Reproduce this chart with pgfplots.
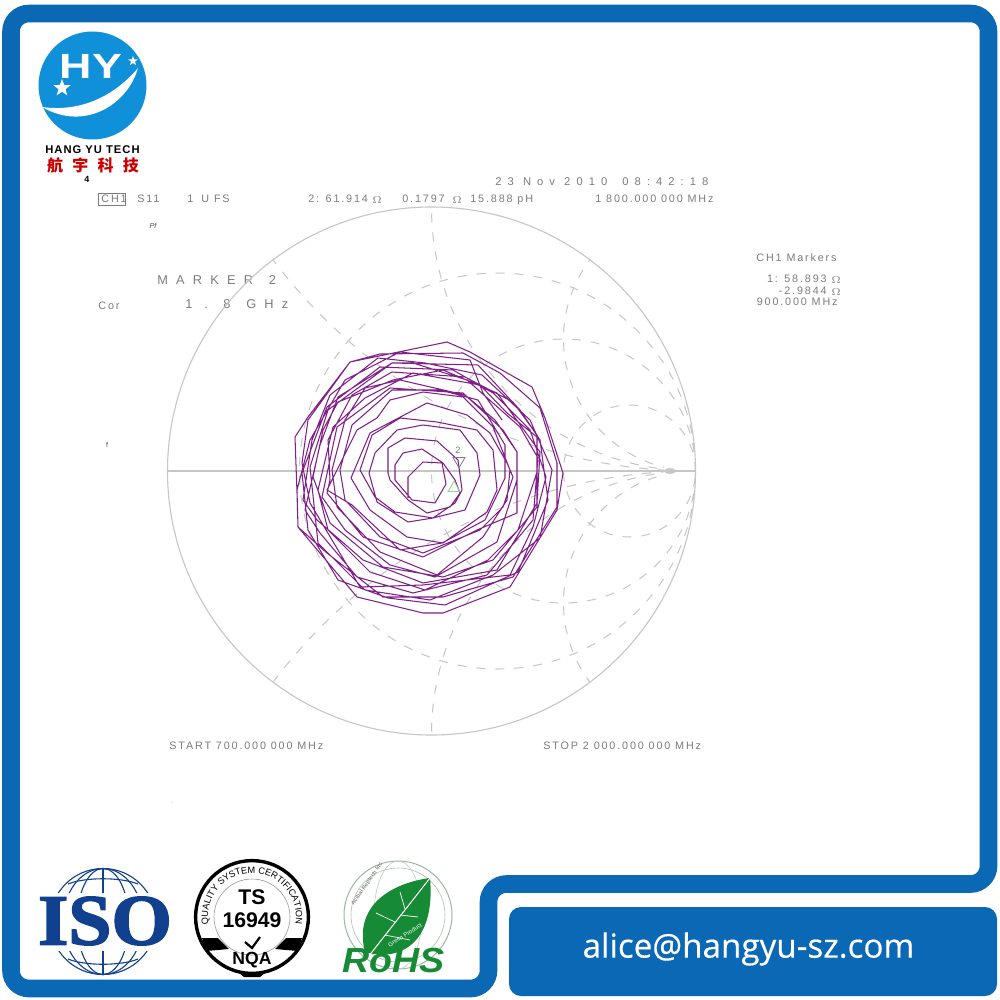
\documentclass[border=0pt]{standalone}
\usepackage{pgfplots}
\pgfplotsset{compat=1.18}
\usepackage{fontspec}
\usetikzlibrary{decorations.text,shapes.geometric}
\setmainfont{Liberation Sans}
\newfontfamily\cjk{Noto Sans CJK SC}
\newfontfamily\mailfont[FakeBold=0.4]{Open Sans}
\newfontfamily\isofont[FakeBold=2.2]{Liberation Serif}
\newfontfamily\inst[LetterSpace=17]{Liberation Sans}
\newfontfamily\instwide[LetterSpace=54]{Liberation Sans}
\newfontfamily\instbig[LetterSpace=64]{Liberation Sans}

\definecolor{frameblue}{HTML}{0B68B5}
\definecolor{logoblue}{HTML}{1190DA}
\definecolor{trace}{HTML}{7F1F87}
\definecolor{gridgray}{HTML}{C6C6C6}
\definecolor{txtgray}{HTML}{7C7C7C}
\definecolor{isoblue}{HTML}{10408E}
\definecolor{rohsgreen}{HTML}{178A35}

% axis is 1000 x 1000 units on 500pt, y downwards, so 1 unit = 1 image pixel = 0.5pt
\pgfplotsset{px/.style={
    hide axis, scale only axis, clip=false,
    width=500pt, height=500pt,
    xmin=0, xmax=1000, ymin=0, ymax=1000, y dir=reverse}}

\newcommand{\smalltxt}[3]{\node[anchor=base west,inner sep=0,text=txtgray,font=\inst\fontsize{5.4pt}{6pt}\selectfont] at (axis cs:#1,#2) {#3};}
\newcommand{\ohm}[2]{\node[anchor=base west,inner sep=0,text=txtgray,font=\fontsize{5pt}{6pt}\selectfont] at (axis cs:#1,#2) {$\Omega$};}

\begin{document}
\begin{tikzpicture}
\begin{axis}[px]
\addplot[draw=none] coordinates {(0,0) (1000,1000)};
\fill[white] (axis cs:0,0) rectangle (axis cs:1000,1000);

% outer frame and mail box
\draw[frameblue,line width=8.8pt,rounded corners=9pt] (axis cs:11,13.5) -- (axis cs:988.5,13.5) -- (axis cs:988.5,884) -- (axis cs:488.5,884) -- (axis cs:488.5,988.5) -- (axis cs:11,988.5) -- cycle;
\fill[frameblue,rounded corners=6pt] (axis cs:509,907) rectangle (axis cs:997,996);
\node[text=white,font=\mailfont\fontsize{16.6pt}{18pt}\selectfont] at (axis cs:748.5,949) {alice@hangyu-sz.com};

% company logo
\fill[logoblue] (axis cs:92.5,85.5) circle[radius=27pt];
\node[text=white,font=\bfseries\fontsize{17.5pt}{18pt}\selectfont,xscale=1.28,inner sep=0] at (axis cs:91,66) {HY};
\node[star,star points=5,star point ratio=2.4,fill=white,minimum size=5pt,inner sep=0] at (axis cs:133,61) {};
\node[star,star points=5,star point ratio=2.4,fill=white,minimum size=9pt,inner sep=0] at (axis cs:62,88) {};
\fill[white] (axis cs:42,107) .. controls (axis cs:85,132) and (axis cs:128,104) .. (axis cs:138,68) .. controls (axis cs:118,92) and (axis cs:85,113) .. (axis cs:42,107) -- cycle;
\node[font=\bfseries\fontsize{5.6pt}{6pt}\selectfont,inner sep=0] at (axis cs:92.5,150) {\addfontfeature{LetterSpace=9}HANG YU TECH};
\node[text=red!80!black,font=\cjk\bfseries\fontsize{8pt}{9pt}\selectfont,inner sep=0] at (axis cs:93,165) {航\hspace{4.6pt}宇\hspace{4.6pt}科\hspace{4.6pt}技};
\node[font=\bfseries\fontsize{4.5pt}{5pt}\selectfont,inner sep=0] at (axis cs:87,179) {4};

% instrument annotations
\draw[txtgray,line width=0.4pt] (axis cs:98,193) rectangle (axis cs:125,205);
\smalltxt{101}{203}{CH1}
\smalltxt{137}{203}{S11}
\smalltxt{187}{203}{1\hspace{4pt}U FS}
\smalltxt{308}{203}{2: 61.914}
\ohm{372}{204}
\smalltxt{402}{203}{0.1797}
\ohm{452}{204}
\smalltxt{470}{203}{15.888 pH}
\smalltxt{595}{203}{1 800.000 000 MHz}
\node[anchor=base west,inner sep=0,text=txtgray,font=\instwide\fontsize{5.6pt}{6pt}\selectfont] at (axis cs:495,186) {23 Nov 2010 \hspace{3pt}08:42:18};
\node[anchor=base west,inner sep=0,text=txtgray,font=\instbig\fontsize{6.4pt}{7pt}\selectfont] at (axis cs:157,284) {MARKER \hspace{2pt}2};
\node[anchor=base west,inner sep=0,text=txtgray,font=\instbig\fontsize{6.4pt}{7pt}\selectfont] at (axis cs:185,308) {1 . 8 \hspace{2pt}GHz};
\smalltxt{98}{309}{Cor}
\node[anchor=base,inner sep=0,text=black!70,font=\itshape\fontsize{3.6pt}{4pt}\selectfont] at (axis cs:153,228) {Pf};
\node[anchor=base,inner sep=0,text=black!70,font=\fontsize{3.6pt}{4pt}\selectfont] at (axis cs:107,447) {f};
\smalltxt{756}{261}{CH1 Markers}
\node[anchor=base east,inner sep=0,text=txtgray,font=\inst\fontsize{5.4pt}{6pt}\selectfont] at (axis cs:827,282) {1: 58.893};
\ohm{831}{283}
\node[anchor=base east,inner sep=0,text=txtgray,font=\inst\fontsize{5.4pt}{6pt}\selectfont] at (axis cs:827,294) {-2.9844};
\ohm{831}{295}
\node[anchor=base east,inner sep=0,text=txtgray,font=\inst\fontsize{5.4pt}{6pt}\selectfont] at (axis cs:838,305) {900.000 MHz};
\smalltxt{169}{749}{START 700.000 000 MHz}
\smalltxt{543}{749}{STOP 2 000.000 000 MHz}
\node[inner sep=0,text=gray!50,font=\fontsize{4pt}{4pt}\selectfont] at (axis cs:172,803) {.};

% Smith chart grid, r = 1/3, 1, 3 and x = 1/2, 1, 2
\draw[gridgray,line width=0.55pt] (axis cs:431.5,471) circle[radius=132pt];
\draw[gridgray,line width=0.55pt] (axis cs:167,471) -- (axis cs:696,471);
\begin{scope}
\clip (axis cs:431.5,471) circle[radius=132pt];
\begin{scope}[gridgray,line width=0.5pt,dash pattern=on 4.5pt off 5pt]
\draw (axis cs:497.5,471) circle[radius=99pt];
\draw (axis cs:563.5,471) circle[radius=66pt];
\draw (axis cs:629.5,471) circle[radius=33pt];
\begin{scope}
\clip (axis cs:150,190) rectangle (axis cs:664,750);
\draw (axis cs:695.5,339) circle[radius=66pt];
\draw (axis cs:695.5,603) circle[radius=66pt];
\draw (axis cs:695.5,207) circle[radius=132pt];
\draw (axis cs:695.5,735) circle[radius=132pt];
\draw (axis cs:695.5,-57) circle[radius=264pt];
\draw (axis cs:695.5,999) circle[radius=264pt];
\end{scope}
\end{scope}
\end{scope}
\fill[gridgray] (axis cs:670,471) ellipse[x radius=3pt,y radius=1.4pt];

% ISO logo
\begin{scope}
\clip (axis cs:40,860) rectangle (axis cs:170,893) (axis cs:40,951) rectangle (axis cs:170,980);
\begin{scope}[isoblue,line width=0.55pt]
\draw (axis cs:103,921.5) circle[radius=26.5pt];
\draw (axis cs:103,921.5) ellipse[x radius=13pt,y radius=26.5pt];
\draw (axis cs:103,921.5) ellipse[x radius=20pt,y radius=26.5pt];
\draw (axis cs:103,868) -- (axis cs:103,975);
\draw (axis cs:68,884) .. controls (axis cs:85,877) and (axis cs:121,877) .. (axis cs:138,884);
\draw (axis cs:68,959) .. controls (axis cs:85,966) and (axis cs:121,966) .. (axis cs:138,959);
\end{scope}
\end{scope}
\node[text=isoblue,font=\isofont\bfseries\fontsize{36pt}{36pt}\selectfont,xscale=1.08,inner sep=0] at (axis cs:105,921) {ISO};

% TS 16949 logo
\draw[black,line width=1.7pt] (axis cs:252,917) circle[radius=28.2pt];
\draw[black!40,line width=0.3pt] (axis cs:252,917) circle[radius=19pt];
\path[decorate,decoration={text along path,text align=center,text={|\fontsize{4.6pt}{5pt}\selectfont|QUALITY SYSTEM CERTIFICATION}}] (axis cs:252,917) ++(203:22pt) arc[start angle=203,end angle=-23,radius=22pt];
\fill[black] (axis cs:202,938) -- (axis cs:218,938) -- (axis cs:229,949) -- (axis cs:206,951) -- cycle;
\fill[black] (axis cs:302,938) -- (axis cs:286,938) -- (axis cs:275,949) -- (axis cs:298,951) -- cycle;
\node[font=\bfseries\fontsize{10.6pt}{11pt}\selectfont,inner sep=0] at (axis cs:252,897) {TS};
\node[font=\bfseries\fontsize{10.6pt}{11pt}\selectfont,inner sep=0] at (axis cs:252,920) {16949};
\draw[black,line width=1.1pt] (axis cs:245,942) -- (axis cs:252,948) -- (axis cs:260,937);
\node[font=\bfseries\fontsize{8.8pt}{9pt}\selectfont,inner sep=0] at (axis cs:252,960) {NQA};
\fill[black] (axis cs:238,972) -- (axis cs:266,972) -- (axis cs:260,977) -- (axis cs:244,977) -- cycle;

% RoHS logo
\draw[rohsgreen!35!gray!60,line width=0.5pt] (axis cs:398,915) circle[radius=27pt];
\draw[rohsgreen!35!gray!50,line width=0.3pt] (axis cs:398,915) circle[radius=23.5pt];
\draw[rohsgreen!35!gray!40,line width=0.3pt] (axis cs:398,915) ellipse[x radius=12pt,y radius=27pt];
\fill[rohsgreen] (axis cs:430,878) .. controls (axis cs:392,883) and (axis cs:353,905) .. (axis cs:365,952) .. controls (axis cs:398,962) and (axis cs:436,945) .. (axis cs:430,878) -- cycle;
\draw[white,line width=0.5pt] (axis cs:361,966) -- (axis cs:430,878);
\draw[white,line width=0.35pt] (axis cs:395,922) -- (axis cs:376,913) (axis cs:405,909) -- (axis cs:400,892) (axis cs:385,935) -- (axis cs:410,940) (axis cs:400,915) -- (axis cs:418,917);
\node[text=gray!90,font=\bfseries\fontsize{2.8pt}{3pt}\selectfont,rotate=55,inner sep=0] at (axis cs:367,884) {Acibal Reptech Inc};
\node[text=white,font=\fontsize{3pt}{3pt}\selectfont,rotate=33,inner sep=0] at (axis cs:405,935) {Green Product};
\node[text=rohsgreen,font=\bfseries\itshape\fontsize{17.4pt}{17pt}\selectfont,inner sep=0,xscale=1.08] at (axis cs:393.5,961) {RoHS};
\end{axis}

\begin{axis}[px]
% S11 trace, y in image pixels
\addplot[trace,line width=0.52pt,line join=round] coordinates {
(408,498) (408,477) (423,462) (442,463) (446,484) (435,503) (412,500)
(395,480) (395,465) (403,453) (422,449) (443,463) (455,480) (460,493) (450,507) (427,513) (408,500) (390,480)
(388,473) (388,448) (405,438) (437,441) (458,460) (462,490) (455,503) (433,518) (408,522) (377,502)
(369,473) (375,453) (397,430) (423,425) (460,430) (477,453) (480,475) (465,510) (433,518) (395,512) (375,497)
(360,470) (372,435) (400,418) (437,422) (477,430) (493,450) (497,490) (487,512) (443,543) (407,537) (370,510)
(351,478) (370,433) (427,403) (467,415) (490,433) (507,463) (513,477) (503,507) (480,530) (423,553) (380,537) (345,500)
(340,470) (352,425) (392,390) (440,390) (478,400) (505,445) (505,478) (497,495) (485,520) (442,543) (400,550) (352,505)
(327,490) (357,430) (377,418) (390,400) (423,392) (463,397) (493,427) (510,470) (507,500) (483,537) (437,575) (380,552) (337,507)
(332,470) (345,420) (365,388) (400,380) (465,395) (495,420) (517,452) (517,480) (497,542) (435,577) (390,565) (345,530)
(322,497) (337,427) (390,388) (463,393) (503,430) (517,452) (517,513) (477,530) (423,557) (363,537) (327,493)
(330,480) (328,440) (352,395) (392,372) (465,377) (513,402) (537,435) (537,472) (518,530) (488,560) (425,590) (370,572) (328,530)
(318,490) (333,427) (365,398) (413,373) (480,385) (507,413) (537,437) (537,507) (493,560) (443,577) (383,567) (330,523)
(313,477) (323,430) (338,402) (393,380) (443,370) (497,393) (540,452) (537,503) (497,570) (423,583) (363,560) (317,520)
(303,500) (312,440) (330,395) (378,358) (425,363) (482,375) (530,420) (552,470) (540,538) (493,575) (430,600) (365,590) (318,543)
(310,467) (328,410) (392,363) (413,363) (467,380) (520,427) (538,458) (533,520) (487,575) (413,593) (357,577) (320,533)
(305,510) (320,445) (338,397) (392,363) (478,365) (520,410) (540,440) (548,500) (518,572) (445,605) (388,598) (338,580) (308,530)
(302,473) (327,407) (380,367) (453,370) (493,393) (530,430) (546,477) (533,527) (510,575) (423,585) (360,587) (310,503)
(302,463) (308,420) (350,362) (380,354) (463,353) (500,373) (540,408) (557,463) (557,507) (513,577) (443,597) (383,597) (327,553) (298,527)
(297,493) (295,437) (308,417) (350,362) (447,342) (470,352) (532,387) (545,418) (563,473) (557,510) (510,587) (443,613) (423,613) (357,597) (298,527)
(297,490) (310,440) (345,380) (400,352) (470,360) (483,393) (502,420)
};
% markers 2 and 1
\addplot[only marks,mark=triangle,mark size=3.4pt,mark options={draw=txtgray,rotate=180,line width=0.4pt}] coordinates {(459,461)};
\addplot[only marks,mark=triangle,mark size=3.4pt,mark options={draw=gray!60!green!60,line width=0.4pt}] coordinates {(454,488)};
\node[text=txtgray,font=\fontsize{4.6pt}{5pt}\selectfont,inner sep=0] at (axis cs:458,450) {2};
\end{axis}
\end{tikzpicture}
\end{document}
